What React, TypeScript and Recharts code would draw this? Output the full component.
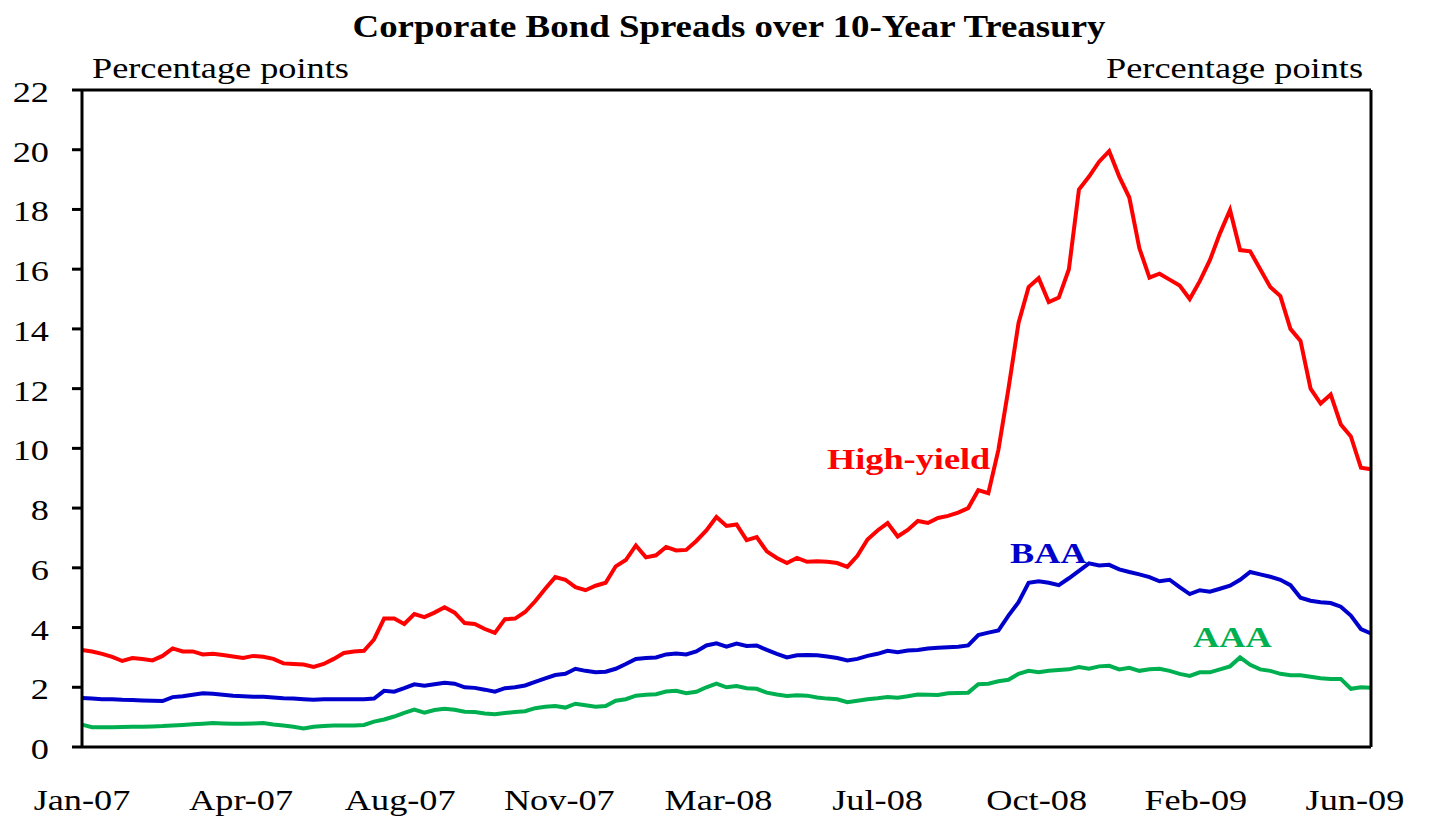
import React from "react";
import { LineChart, Line, XAxis, YAxis, ReferenceLine } from "recharts";

// weekly readings, Jan-07 .. Jun-09 (percentage points over 10-year treasury)
const highYield = [
  3.25, 3.2, 3.12, 3.02, 2.88, 2.98, 2.95, 2.9, 3.05, 3.3,
  3.2, 3.2, 3.1, 3.12, 3.08, 3.03, 2.98, 3.05, 3.02, 2.95,
  2.8, 2.78, 2.76, 2.68, 2.78, 2.95, 3.15, 3.2, 3.22, 3.6,
  4.3, 4.3, 4.12, 4.45, 4.35, 4.5, 4.68, 4.5, 4.15, 4.12,
  3.95, 3.82, 4.28, 4.3, 4.52, 4.88, 5.3, 5.69, 5.6, 5.35,
  5.25, 5.4, 5.5, 6.05, 6.26, 6.75, 6.35, 6.42, 6.7, 6.58,
  6.6, 6.9, 7.25, 7.7, 7.4, 7.45, 6.93, 7.03, 6.55, 6.33,
  6.16, 6.33, 6.2, 6.22, 6.2, 6.16, 6.03, 6.4, 6.95, 7.25,
  7.5, 7.05, 7.27, 7.57, 7.5, 7.67, 7.74, 7.85, 8.0, 8.6,
  8.5, 9.95, 12.0, 14.2, 15.4, 15.7, 14.9, 15.05, 16.0, 18.67,
  19.1, 19.6, 19.95, 19.1, 18.4, 16.7, 15.72, 15.85, 15.65, 15.45,
  15.0, 15.6, 16.3, 17.2, 17.98, 16.64, 16.6, 16.0, 15.4, 15.1,
  14.0, 13.6, 12.0, 11.5, 11.8, 10.8, 10.4, 9.35, 9.3,
];

const baa = [
  1.64, 1.62, 1.6, 1.6, 1.58, 1.57, 1.56, 1.55, 1.54, 1.67,
  1.7, 1.75, 1.8, 1.78, 1.75, 1.72, 1.7, 1.68, 1.68, 1.66,
  1.63, 1.62, 1.6, 1.58, 1.6, 1.6, 1.6, 1.6, 1.6, 1.62,
  1.88, 1.85, 1.97, 2.1, 2.05, 2.1, 2.15, 2.12, 2.0, 1.98,
  1.92, 1.85, 1.97, 2.0, 2.06, 2.18, 2.3, 2.41, 2.45, 2.62,
  2.55, 2.5, 2.52, 2.62, 2.78, 2.95, 2.98, 3.0, 3.1, 3.13,
  3.1, 3.2, 3.4, 3.47, 3.36, 3.46, 3.38, 3.4, 3.25, 3.12,
  3.0, 3.07, 3.08, 3.07, 3.03, 2.98, 2.9, 2.95, 3.05, 3.12,
  3.22, 3.17, 3.23, 3.25, 3.3, 3.32, 3.34, 3.36, 3.4, 3.75,
  3.83, 3.9, 4.4, 4.85, 5.5, 5.55, 5.5, 5.42, 5.65, 5.9,
  6.15, 6.08, 6.1, 5.95, 5.86, 5.78, 5.69, 5.55, 5.6, 5.35,
  5.12, 5.25, 5.2, 5.3, 5.4, 5.6, 5.86, 5.78, 5.7, 5.6,
  5.42, 5.0, 4.9, 4.85, 4.82, 4.7, 4.4, 3.95, 3.8,
];

const aaa = [
  0.75, 0.66, 0.66, 0.66, 0.67, 0.68, 0.68, 0.69, 0.7, 0.72,
  0.74, 0.76, 0.78, 0.8, 0.79, 0.78, 0.78, 0.79, 0.8, 0.75,
  0.72, 0.68, 0.62, 0.68, 0.7, 0.72, 0.72, 0.72, 0.74, 0.85,
  0.92, 1.02, 1.14, 1.25, 1.15, 1.24, 1.28, 1.25, 1.18, 1.17,
  1.12, 1.1, 1.14, 1.17, 1.2, 1.3, 1.35, 1.37, 1.32, 1.45,
  1.4, 1.35, 1.37, 1.55, 1.6, 1.72, 1.75, 1.77, 1.86, 1.88,
  1.8, 1.85, 2.0, 2.12, 2.0, 2.04, 1.97, 1.95, 1.82, 1.76,
  1.71, 1.73, 1.72, 1.66, 1.62, 1.6, 1.5, 1.55, 1.6, 1.63,
  1.67, 1.65, 1.7, 1.76, 1.75, 1.74, 1.8, 1.81, 1.82, 2.1,
  2.12, 2.2, 2.25, 2.45, 2.55, 2.5, 2.55, 2.58, 2.6, 2.68,
  2.62, 2.7, 2.72, 2.6, 2.65, 2.55, 2.6, 2.62, 2.55, 2.45,
  2.38, 2.5, 2.5, 2.6, 2.7, 3.0, 2.75, 2.6, 2.55, 2.45,
  2.4, 2.4, 2.35, 2.3, 2.28, 2.28, 1.95, 2.0, 1.98,
];

const monthLabels = ["Jan-07", "Apr-07", "Aug-07", "Nov-07", "Mar-08", "Jul-08", "Oct-08", "Feb-09", "Jun-09"];
const labelWeeks = [0, 15.8, 31.6, 47.4, 63.2, 79, 94.8, 110.6, 126.4];
const yTicks = [0, 2, 4, 6, 8, 10, 12, 14, 16, 18, 20, 22];
// a small tick every 12 trading days
const minorTicks = Array.from({ length: 54 }, (_, i) => +(i * 2.393).toFixed(3));

const data = highYield.map((v, i) => ({
  week: i,
  highYield: v,
  baa: baa[i],
  aaa: aaa[i],
}));

const FONT = "Liberation Serif, Times New Roman, serif";
const SX = 1.21;
const axisStroke = { stroke: "#000", strokeWidth: 3 };

function YTick(props: any) {
  const { x, y, payload, textAnchor } = props;
  return (
    <g transform={`translate(${x},${y}) scale(${SX},1)`}>
      <text x={0} y={0} dy={12} textAnchor={textAnchor} fontFamily={FONT} fontSize={30} fill="#000">
        {payload.value}
      </text>
    </g>
  );
}

function MonthTick(props: any) {
  const { x, payload } = props;
  const idx = labelWeeks.indexOf(payload.value);
  return (
    <g transform={`translate(${x},810) scale(${SX},1)`}>
      <text x={0} y={0} textAnchor="middle" fontFamily={FONT} fontSize={30} fill="#000">
        {monthLabels[idx]}
      </text>
    </g>
  );
}

export default function App() {
  return (
    <div style={{ position: "absolute", left: 0, top: 0, width: 1444, height: 820, background: "#fff" }}>
      <LineChart width={1444} height={820} data={data} margin={{ top: 90, right: 0, bottom: 0, left: 0 }}>
        <XAxis
          xAxisId="a"
          dataKey="week"
          type="number"
          domain={[0, 128]}
          ticks={minorTicks}
          interval={0}
          height={72}
          tick={false}
          tickSize={10}
          axisLine={axisStroke}
          tickLine={axisStroke}
        />
        <XAxis
          xAxisId="b"
          dataKey="week"
          type="number"
          domain={[0, 128]}
          ticks={labelWeeks}
          interval={0}
          height={1}
          tickSize={0}
          tickMargin={0}
          axisLine={false}
          tickLine={false}
          tick={<MonthTick />}
        />
        <YAxis
          yAxisId="left"
          domain={[0, 22]}
          ticks={yTicks}
          interval={0}
          width={82}
          tickSize={10}
          tickMargin={23}
          axisLine={axisStroke}
          tickLine={axisStroke}
          tick={<YTick />}
        />
        <YAxis
          yAxisId="right"
          orientation="right"
          domain={[0, 22]}
          ticks={yTicks}
          interval={0}
          width={73}
          tickSize={10}
          tickMargin={24}
          axisLine={axisStroke}
          tickLine={axisStroke}
          tick={<YTick />}
        />
        <ReferenceLine xAxisId="a" yAxisId="left" y={22} stroke="#000" strokeWidth={3} />
        <Line xAxisId="a" yAxisId="left" type="linear" dataKey="aaa" stroke="#00B050" strokeWidth={4} dot={false} isAnimationActive={false} />
        <Line xAxisId="a" yAxisId="left" type="linear" dataKey="baa" stroke="#0000CC" strokeWidth={4} dot={false} isAnimationActive={false} />
        <Line xAxisId="a" yAxisId="left" type="linear" dataKey="highYield" stroke="#FF0000" strokeWidth={4} dot={false} isAnimationActive={false} />
      </LineChart>
      <svg width={1444} height={820} style={{ position: "absolute", left: 0, top: 0, pointerEvents: "none" }}>
        <g fontFamily={FONT} fontSize={30}>
          <text transform={`translate(729,37) scale(1.19,1)`} textAnchor="middle" fontSize={31} fontWeight="bold" fill="#000">
            Corporate Bond Spreads over 10-Year Treasury
          </text>
          <text transform={`translate(92,78) scale(${SX},1)`} textAnchor="start" fill="#000">
            Percentage points
          </text>
          <text transform={`translate(1363,78) scale(${SX},1)`} textAnchor="end" fill="#000">
            Percentage points
          </text>
          <text transform={`translate(827,469) scale(${SX},1)`} fontWeight="bold" fill="#FF0000">
            High-yield
          </text>
          <text transform={`translate(1010,563) scale(${SX},1)`} fontWeight="bold" fill="#0000CC">
            BAA
          </text>
          <text transform={`translate(1193,647) scale(${SX},1)`} fontWeight="bold" fill="#00B050">
            AAA
          </text>
        </g>
      </svg>
    </div>
  );
}
